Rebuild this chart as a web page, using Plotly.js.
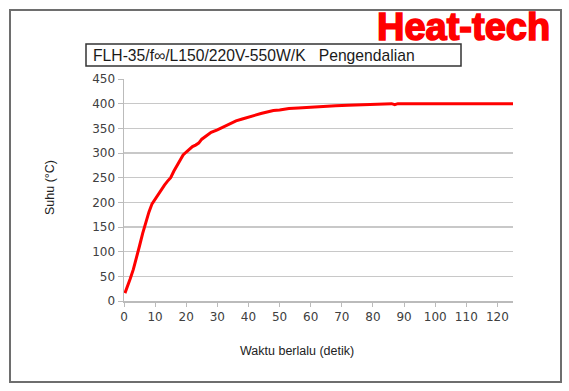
<!DOCTYPE html>
<html>
<head>
<meta charset="utf-8">
<script src="https://cdn.plot.ly/plotly-3.0.1.min.js"></script>
<style>
html,body{margin:0;padding:0;background:#fff;}
#chart{width:569px;height:391px;}
g.annotation[data-index="1"] text{stroke:#ff0000;stroke-width:1.6px;}
</style>
</head>
<body>
<div id="chart"></div>
<script>
const timeSec = [0.3,1,2,3,4,5,6,7,8,9,10,11,12,13,14,15,16,17,18,19,20,21,22,23,24,25,26,27,28,30,32,34,36,38,40,42,44,46,48,50,53,56,60,64,68,72,76,80,84,86,87,88,90,100,110,120,125];
const tempC = [16,27,45,64,86,112,137,160,180,197,207,216,226,235,243,250,263,275,286,296,302,307,313,316,320,328,333,338,342,347,353,359,365,369,373,377,380,383,386,387,390,391,393,395,396,397,398,398,399,400,398,400,400,400,400,400,400];
const xTicks = [0,10,20,30,40,50,60,70,80,90,100,110,120];
const yTicks = [0,50,100,150,200,250,300,350,400,450];
const chartTitle = "FLH-35/f\u221E/L150/220V-550W/K\u00A0\u00A0\u00A0Pengendalian";
const brand = "Heat-tech";
const xLabel = "Waktu berlalu (detik)";
const yLabel = "Suhu (\u00B0C)";

const L = 124, R = 513, T = 79, B = 301;
const px = v => (v - L) / (R - L);
const py = v => (B - v) / (B - T);

const tickFont = {family: "DejaVu Sans", size: 12, color: "#404040"};

Plotly.newPlot("chart", [{
  x: timeSec, y: tempC, type: "scatter", mode: "lines",
  line: {color: "#ff0000", width: 3}, hoverinfo: "none"
}], {
  width: 569, height: 391,
  margin: {l: L, r: 569 - R, t: T, b: 391 - B, pad: 0},
  paper_bgcolor: "#fff", plot_bgcolor: "#fff",
  showlegend: false,
  xaxis: {range: [0, 125], tickvals: xTicks, ticktext: xTicks.map(String),
    ticks: "outside", ticklen: 4, tickcolor: "#bbbbbb", showline: true, linecolor: "#bbbbbb", linewidth: 1.5,
    showgrid: false, zeroline: false, tickfont: tickFont},
  yaxis: {range: [0, 450], tickvals: yTicks, ticktext: yTicks.map(String),
    ticks: "outside", ticklen: 5, tickcolor: "#bbbbbb", showline: true, linecolor: "#bbbbbb", linewidth: 1.5,
    showgrid: true, gridcolor: "#c8c8c8", gridwidth: 1.5, zeroline: false, tickfont: tickFont},
  shapes: [
    {type: "rect", xref: "paper", yref: "paper", x0: px(10), x1: px(561), y0: py(382), y1: py(10),
     line: {color: "#6e6e6e", width: 2}, fillcolor: "rgba(0,0,0,0)"},
    {type: "rect", xref: "paper", yref: "paper", x0: px(86), x1: px(461), y0: py(66), y1: py(44),
     line: {color: "#333333", width: 1.5}, fillcolor: "rgba(0,0,0,0)"}
  ],
  annotations: [
    {text: chartTitle, xref: "paper", yref: "paper", x: px(91), y: py(55), xanchor: "left", yanchor: "middle",
     showarrow: false, font: {family: "Liberation Sans", size: 15.7, color: "#1a1a1a"}},
    {text: "<b>" + brand + "</b>", xref: "paper", yref: "paper", x: px(552), y: py(27), xanchor: "right", yanchor: "middle",
     showarrow: false, font: {family: "Liberation Sans", size: 38, color: "#ff0000"}},
    {text: xLabel, xref: "paper", yref: "paper", x: px(297), y: py(351), xanchor: "center", yanchor: "middle",
     showarrow: false, font: {family: "Liberation Sans", size: 12.5, color: "#222"}},
    {text: yLabel, xref: "paper", yref: "paper", x: px(50), y: py(188), xanchor: "center", yanchor: "middle",
     textangle: -90, showarrow: false, font: {family: "Liberation Sans", size: 12.5, color: "#222"}}
  ]
}, {staticPlot: true, displayModeBar: false});
</script>
</body>
</html>
